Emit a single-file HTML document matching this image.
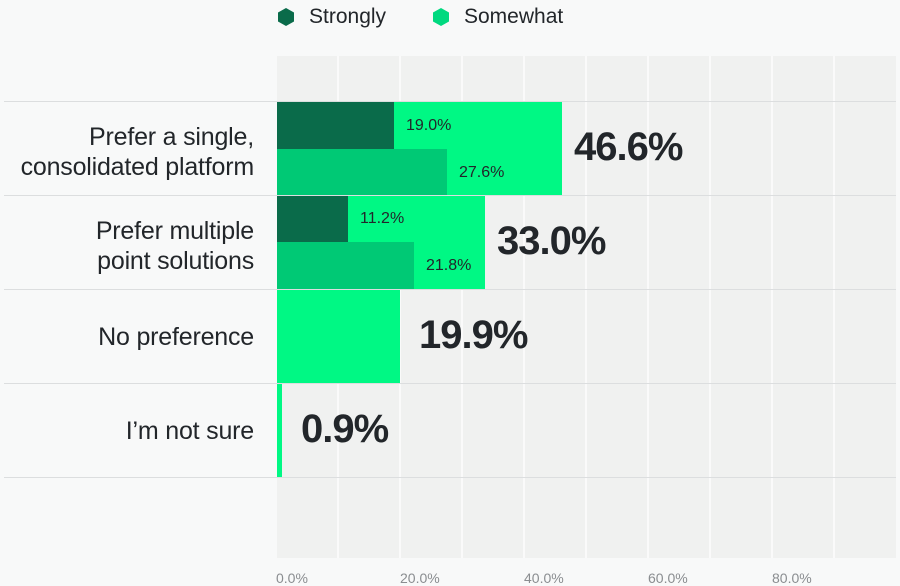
<!DOCTYPE html>
<html><head><meta charset="utf-8"><style>
body{margin:0;width:900px;height:584px;overflow:hidden;background:#f8f9f9;font-family:"Liberation Sans",sans-serif;color:#22262a;}
.a{position:absolute}
.lbl{position:absolute;right:646px;text-align:right;font-size:25px;line-height:30px;letter-spacing:-0.2px;white-space:nowrap}
.sv{position:absolute;font-size:16px;}
.big{position:absolute;font-size:40px;font-weight:bold;letter-spacing:-1px}
.tk{position:absolute;top:570px;font-size:14px;color:#8a8d90}
</style></head><body>
<div class="a" style="left:277px;top:56px;width:619px;height:502px;background:#f0f1f0"></div>
<div class="a" style="left:337px;top:56px;width:2px;height:502px;background:#fafafa"></div>
<div class="a" style="left:399px;top:56px;width:2px;height:502px;background:#fafafa"></div>
<div class="a" style="left:461px;top:56px;width:2px;height:502px;background:#fafafa"></div>
<div class="a" style="left:523px;top:56px;width:2px;height:502px;background:#fafafa"></div>
<div class="a" style="left:585px;top:56px;width:2px;height:502px;background:#fafafa"></div>
<div class="a" style="left:647px;top:56px;width:2px;height:502px;background:#fafafa"></div>
<div class="a" style="left:709px;top:56px;width:2px;height:502px;background:#fafafa"></div>
<div class="a" style="left:771px;top:56px;width:2px;height:502px;background:#fafafa"></div>
<div class="a" style="left:833px;top:56px;width:2px;height:502px;background:#fafafa"></div>
<!-- bars -->
<div class="a" style="left:277px;top:102px;width:285px;height:93px;background:#00f884"></div>
<div class="a" style="left:277px;top:102px;width:117px;height:47px;background:#0a6b4a"></div>
<div class="a" style="left:277px;top:149px;width:170px;height:46px;background:#00c975"></div>
<div class="a" style="left:277px;top:195px;width:208px;height:94px;background:#00f884"></div>
<div class="a" style="left:277px;top:195px;width:71px;height:47px;background:#0a6b4a"></div>
<div class="a" style="left:277px;top:242px;width:137px;height:47px;background:#00c975"></div>
<div class="a" style="left:277px;top:289px;width:123px;height:94px;background:#00f884"></div>
<div class="a" style="left:277px;top:383px;width:5px;height:94px;background:#00f884"></div>
<!-- row lines -->
<div class="a" style="left:4px;top:101px;width:892px;height:1px;background:#dcdedf"></div>
<div class="a" style="left:4px;top:195px;width:892px;height:1px;background:#dcdedf"></div>
<div class="a" style="left:4px;top:289px;width:892px;height:1px;background:#dcdedf"></div>
<div class="a" style="left:4px;top:383px;width:892px;height:1px;background:#dcdedf"></div>
<div class="a" style="left:4px;top:477px;width:892px;height:1px;background:#dcdedf"></div>
<!-- labels -->
<div class="lbl" style="top:122px">Prefer a single,<br>consolidated platform</div>
<div class="lbl" style="top:216px">Prefer multiple<br>point solutions</div>
<div class="lbl" style="top:322px">No preference</div>
<div class="lbl" style="top:416px">I’m not sure</div>
<div class="sv" style="left:406px;top:117px">19.0%</div>
<div class="sv" style="left:459px;top:164px">27.6%</div>
<div class="sv" style="left:360px;top:210px">11.2%</div>
<div class="sv" style="left:426px;top:257px">21.8%</div>
<div class="big" style="left:574px;top:125px">46.6%</div>
<div class="big" style="left:497px;top:219px">33.0%</div>
<div class="big" style="left:419px;top:313px">19.9%</div>
<div class="big" style="left:301px;top:407px">0.9%</div>
<div class="tk" style="left:276px">0.0%</div>
<div class="tk" style="left:400px">20.0%</div>
<div class="tk" style="left:524px">40.0%</div>
<div class="tk" style="left:648px">60.0%</div>
<div class="tk" style="left:772px">80.0%</div>
<!-- legend -->
<svg class="a" style="left:277px;top:7px" width="18" height="20"><polygon points="9,1 17,5.5 17,14.5 9,19 1,14.5 1,5.5" fill="#0a6b4a"/></svg>
<div class="a" style="left:309px;top:5px;font-size:21px">Strongly</div>
<svg class="a" style="left:432px;top:7px" width="18" height="20"><polygon points="9,1 17,5.5 17,14.5 9,19 1,14.5 1,5.5" fill="#00d97f"/></svg>
<div class="a" style="left:464px;top:5px;font-size:21px">Somewhat</div>
</body></html>
